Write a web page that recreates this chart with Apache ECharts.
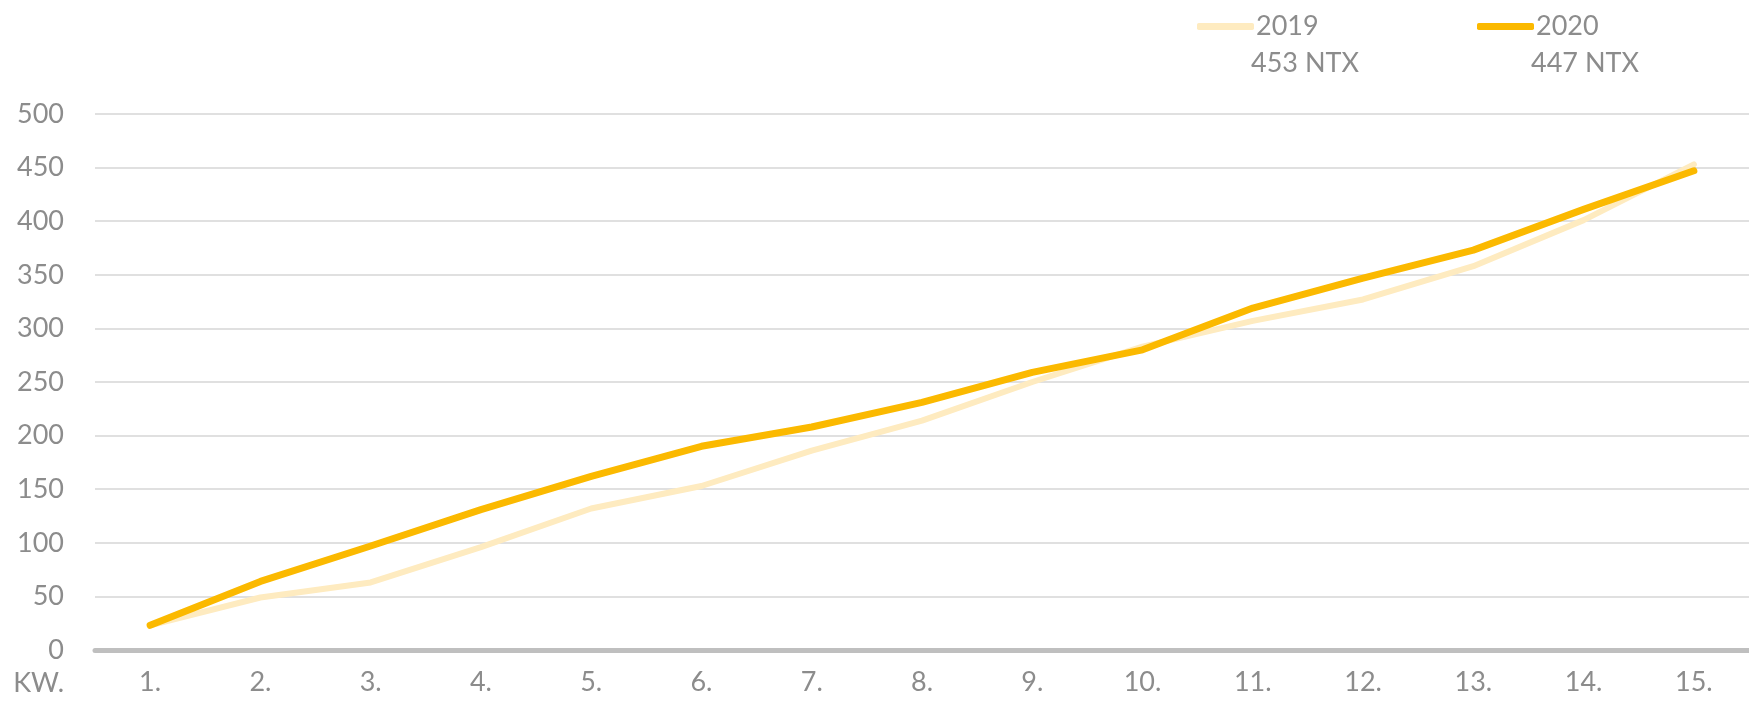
<!DOCTYPE html>
<html>
<head>
<meta charset="utf-8">
<script src="https://cdn.jsdelivr.net/npm/echarts@6/dist/echarts.min.js"></script>
<style>html,body{margin:0;padding:0;background:#fff}#c{width:1749px;height:701px}</style>
</head>
<body>
<div id="c"></div>
<script>
const categories = ['1.','2.','3.','4.','5.','6.','7.','8.','9.','10.','11.','12.','13.','14.','15.'];
const series2019 = [23, 49, 63, 96, 132, 153, 186, 214, 250, 283, 307, 327, 358, 401, 453];
const series2020 = [23, 64, 97, 131, 162, 190, 208, 231, 259, 280, 319, 347, 373, 411, 447];
const seriesNames = ['2019', '2020'];
const unit = 'NTX';
const axisName = 'KW.';
const yTicks = [0, 50, 100, 150, 200, 250, 300, 350, 400, 450, 500];

const FONT = 'Lato';
const FS = 27;
const GREY = '#8c8c8c';
const C19 = '#FEEBC0';
const C20 = '#FBB900';

const chart = echarts.init(document.getElementById('c'), null, {renderer: 'canvas'});
const totals = [series2019[series2019.length-1], series2020[series2020.length-1]];
const legendX = [1192, 1472];

const legendBase = {
  top: 8, itemWidth: 57, itemHeight: 7, icon: 'roundRect', itemGap: 0,
  textStyle: {color: GREY, fontSize: FS, fontFamily: FONT, padding: [0,0,0,-3]}
};

chart.setOption({
  animation: false,
  textStyle: {fontFamily: FONT},
  grid: {left: 95, right: 0, top: 114, bottom: 51, containLabel: false},
  legend: [
    Object.assign({}, legendBase, {left: legendX[0], data: [seriesNames[0]]}),
    Object.assign({}, legendBase, {left: legendX[1], data: [seriesNames[1]]})
  ],
  graphic: [
    {type: 'text', left: legendX[0] + 59, top: 50, style: {text: totals[0] + ' ' + unit, fill: GREY, font: FS + 'px ' + FONT}},
    {type: 'text', left: legendX[1] + 59, top: 50, style: {text: totals[1] + ' ' + unit, fill: GREY, font: FS + 'px ' + FONT}}
  ],
  xAxis: {
    type: 'category', data: categories, boundaryGap: true,
    name: axisName, nameLocation: 'start', nameGap: 31,
    nameTextStyle: {color: GREY, fontSize: FS, fontFamily: FONT, verticalAlign: 'top', padding: [20,0,0,0]},
    axisLine: {lineStyle: {color: '#bfbfbf', width: 5}},
    axisTick: {show: false},
    axisLabel: {color: GREY, fontSize: FS, fontFamily: FONT, margin: 19}
  },
  yAxis: {
    type: 'value', min: yTicks[0], max: yTicks[yTicks.length-1], interval: yTicks[1]-yTicks[0],
    axisLine: {show: false}, axisTick: {show: false},
    axisLabel: {color: GREY, fontSize: FS, fontFamily: FONT, margin: 31},
    splitLine: {lineStyle: {color: '#e0e0e0', width: 2}}
  },
  series: [
    {name: seriesNames[0], type: 'line', data: series2019, showSymbol: false, symbol: 'none',
     itemStyle: {color: C19}, lineStyle: {color: C19, width: 6, cap: 'round', join: 'round'}, z: 2},
    {name: seriesNames[1], type: 'line', data: series2020, showSymbol: false, symbol: 'none',
     itemStyle: {color: C20}, lineStyle: {color: C20, width: 7, cap: 'round', join: 'round'}, z: 3}
  ]
});
</script>
</body>
</html>
